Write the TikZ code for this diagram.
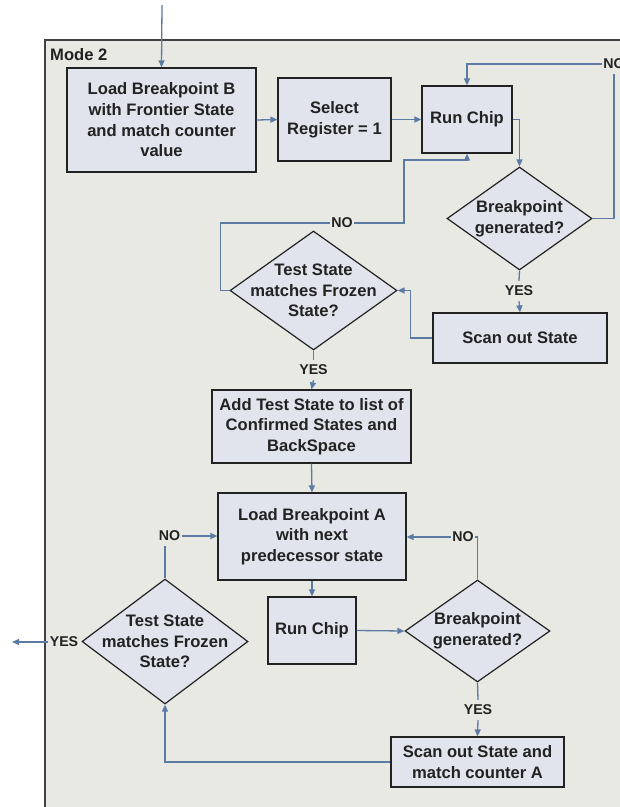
\documentclass[tikz,border=0pt]{standalone}
\usepackage{fontspec}
\setmainfont{Liberation Sans}
\usetikzlibrary{shapes.geometric,arrows.meta}
\definecolor{panel}{RGB}{232,233,227}
\definecolor{boxfill}{RGB}{225,228,236}
\definecolor{flow}{RGB}{91,122,164}
\definecolor{ink}{RGB}{34,34,34}
\definecolor{rim}{RGB}{64,64,64}
\begin{document}
\begin{tikzpicture}[x=1pt,y=-1pt,
  boxtext/.style={font=\fontsize{16.6}{20.7}\selectfont\bfseries, text=ink, align=center},
  process/.style={draw=ink, line width=1.2pt, fill=boxfill, rectangle, inner sep=0pt, boxtext},
  decision/.style={draw=ink, line width=1.2pt, fill=boxfill, diamond, inner sep=0pt},
  dtext/.style={boxtext, inner sep=0pt},
  tag/.style={font=\fontsize{14.2}{16}\selectfont\bfseries, text=ink, inner xsep=1.5pt, inner ysep=5pt},
  flowline/.style={draw=flow, line width=1.3pt},
  arr/.style={flowline, -{Triangle[length=7pt,width=6pt]}},
]
\useasboundingbox (0,0) rectangle (620,807);
\clip (0,0) rectangle (620,807);

% Mode 2 panel
\draw[draw=rim, fill=panel, line width=1.5pt] (45,40) rectangle (650,840);
\node[anchor=west, inner sep=0pt, boxtext] (mode) at (50,54.5) {Mode 2};

% process boxes
\node[process, minimum width=189pt, minimum height=104pt] (loadB) at (161.5,120)
  {Load Breakpoint B\\with Frontier State\\and match counter\\value};
\node[process, minimum width=113pt, minimum height=83pt] (sel) at (334.5,119.5)
  {Select\\Register = 1};
\node[process, minimum width=90pt, minimum height=67pt] (run1) at (467,119.5) {Run Chip};
\node[process, minimum width=174pt, minimum height=50pt] (scan1) at (520,338) {Scan out State};
\node[process, minimum width=199pt, minimum height=73pt] (add) at (311.5,426.5)
  {Add Test State to list of\\Confirmed States and\\BackSpace};
\node[process, minimum width=188pt, minimum height=87pt] (loadA) at (312,536.5)
  {Load Breakpoint A\\with next\\predecessor state};
\node[process, minimum width=88pt, minimum height=67pt] (run2) at (312,630.5) {Run Chip};
\node[process, minimum width=173pt, minimum height=50pt] (scan2) at (477.5,762)
  {Scan out State and\\match counter A};

% decisions
\node[decision, minimum width=145pt, minimum height=103pt,
  label={[dtext]center:{Breakpoint\\generated?}}] (bp1) at (519.5,218.5) {};
\node[decision, minimum width=167pt, minimum height=119pt,
  label={[dtext]center:{Test State\\matches Frozen\\State?}}] (ts1) at (313.5,290.5) {};
\node[decision, minimum width=145pt, minimum height=102pt,
  label={[dtext]center:{Breakpoint\\generated?}}] (bp2) at (477.5,631) {};
\node[decision, minimum width=166pt, minimum height=125pt,
  label={[dtext]center:{Test State\\matches Frozen\\State?}}] (ts2) at (165,641.5) {};

% branch tags
\node[tag] (no1) at (614,64) {NO};
\node[tag] (yes1) at (519,291) {YES};
\node[tag] (no2) at (342,223) {NO};
\node[tag] (yes2) at (313.5,370) {YES};
\node[tag] (no3) at (463,537) {NO};
\node[tag] (yes3) at (478,710) {YES};
\node[tag] (no4) at (169.5,536) {NO};
\node[tag] (yes4) at (64,642) {YES};

\coordinate (entry) at (162,5);
\coordinate (exit) at (12,642);

% connectors
\draw[arr] (entry) -- (loadB.north);
\draw[arr] (loadB.east) -- (sel.west);
\draw[arr] (sel.east) -- (run1.west);
\draw[arr] (run1.east) -| (bp1.north);
\draw[flowline] (bp1.east) -| (no1.south);
\draw[arr] (no1.west) -| (run1.north);
\draw[flowline] (bp1.south) -- (yes1.north);
\draw[arr] (yes1.south) -- (scan1.north);
\draw[arr] (scan1.west) -- ++(-22,0) |- (ts1.east);
\draw[flowline] (ts1.west) -- ++(-9,0) |- (no2.west);
\draw[arr] (no2.east) -| (404,160) -| (run1.south);
\draw[flowline] (ts1.south) -- (yes2.north);
\draw[arr] (yes2.south) -- (add.north);
\draw[arr] (add.south) -- (loadA.north);
\draw[arr] (loadA.south) -- (run2.north);
\draw[arr] (run2.east) -- (bp2.west);
\draw[flowline] (bp2.north) |- (no3.east);
\draw[arr] (no3.west) -- (no3.west -| loadA.east);
\draw[flowline] (bp2.south) -- (yes3.north);
\draw[arr] (yes3.south) -- (scan2.north);
\draw[arr] (scan2.west) -| (ts2.south);
\draw[flowline] (ts2.north) -- (ts2.north |- no4.south);
\draw[arr] (no4.east) -- (no4.east -| loadA.west);
\draw[arr] (yes4.west) -- (exit);
\end{tikzpicture}
\end{document}
